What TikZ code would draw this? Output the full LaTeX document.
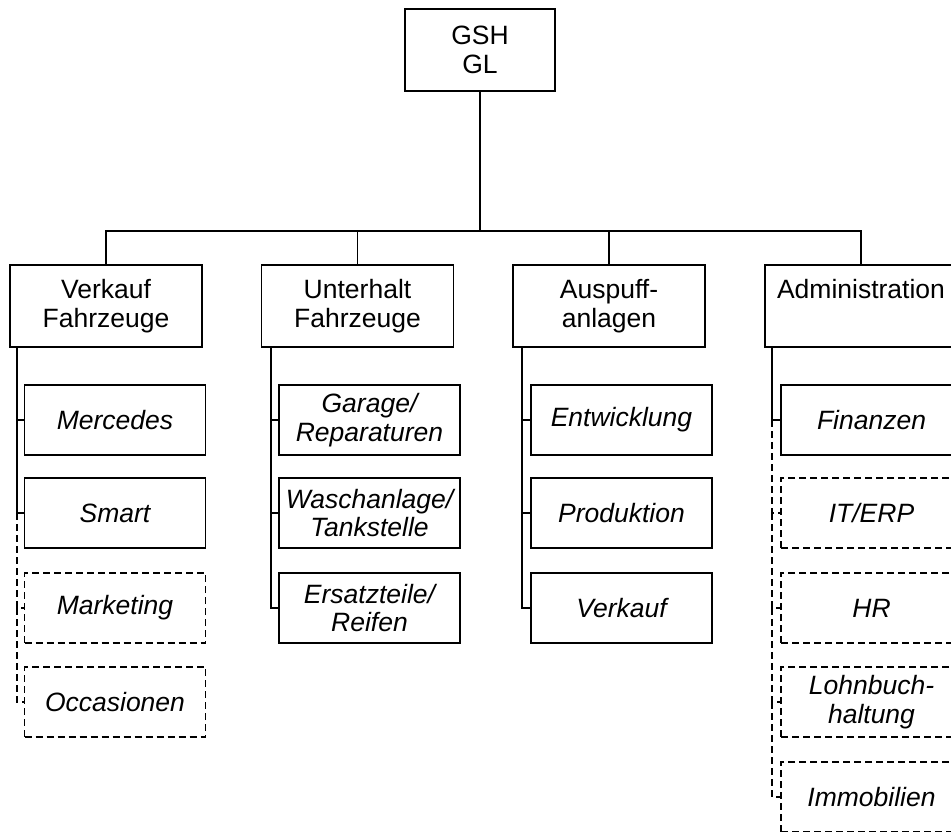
\documentclass[tikz,border=0pt]{standalone}
\usepackage{fontspec}
\setmainfont{Liberation Sans}

\newcommand{\orgfont}{\fontsize{26.5}{28.5}\selectfont}

\tikzset{
	unit/.style={draw, line width=1.9pt, minimum width=192pt, minimum height=82pt, align=center, inner sep=0pt, font=\orgfont},
	sub/.style={draw, line width=1.9pt, minimum width=181pt, minimum height=70pt, align=center, inner sep=0pt, font=\orgfont\itshape},
	subopt/.style={sub, dash pattern=on 7pt off 4pt},
	link/.style={line width=1.9pt},
	linkopt/.style={line width=1.9pt, dash pattern=on 7pt off 4pt}
}

\begin{document}
\begin{tikzpicture}[x=1pt,y=-1pt]
	\useasboundingbox (0,0) rectangle (951,831);
	% Geschaeftsleitung
	\node[unit, minimum width=150pt] (gl) at (480,50) {GSH\\GL};
	\coordinate (bus) at (480,231);

	% Bereiche
	\node[unit] (vf) at (106,306) {Verkauf\\Fahrzeuge};
	\node[unit] (uf) at (357.5,306) {Unterhalt\\Fahrzeuge};
	\node[unit] (ap) at (609,306) {Auspuff-\\anlagen};
	\node[unit] (adm) at (861,306) {Administration\\\vphantom{Fg}};

	\draw[link] (gl.south) -- (bus);
	\draw[link] (vf.north) |- (bus) -| (adm.north);
	\draw[link] (uf.north) -- (uf.north |- bus);
	\draw[link] (ap.north) -- (ap.north |- bus);

	% Verkauf Fahrzeuge
	\node[sub] (vf1) at (115,420) {Mercedes};
	\node[sub] (vf2) at (115,513) {Smart};
	\node[subopt] (vf3) at (115,608) {Marketing};
	\node[subopt] (vf4) at (115,702) {Occasionen};
	\coordinate (vfs) at (17,347);
	\draw[link] (vfs) |- (vf1.west);
	\draw[link] (vfs) |- (vf2.west);
	\draw[linkopt] (vfs |- vf2.west) |- (vf3.west);
	\draw[linkopt] (vfs |- vf3.west) |- (vf4.west);

	% Unterhalt Fahrzeuge
	\node[sub] (uf1) at (369.5,420) {Garage/\\Reparaturen};
	\node[sub] (uf2) at (369.5,513) {Waschanlage/\\Tankstelle};
	\node[sub] (uf3) at (369.5,608) {Ersatzteile/\\Reifen};
	\coordinate (ufs) at (271,347);
	\draw[link] (ufs) |- (uf1.west);
	\draw[link] (ufs) |- (uf2.west);
	\draw[link] (ufs) |- (uf3.west);

	% Auspuffanlagen
	\node[sub] (ap1) at (621.5,420) {Entwicklung};
	\node[sub] (ap2) at (621.5,513) {Produktion};
	\node[sub] (ap3) at (621.5,608) {Verkauf};
	\coordinate (aps) at (522,347);
	\draw[link] (aps) |- (ap1.west);
	\draw[link] (aps) |- (ap2.west);
	\draw[link] (aps) |- (ap3.west);

	% Administration
	\node[sub] (adm1) at (871.5,420) {Finanzen};
	\node[subopt] (adm2) at (871.5,513) {IT/ERP};
	\node[subopt] (adm3) at (871.5,608) {HR};
	\node[subopt] (adm4) at (871.5,702) {Lohnbuch-\\haltung};
	\node[subopt] (adm5) at (871.5,797) {Immobilien};
	\coordinate (adms) at (772,347);
	\draw[link] (adms) |- (adm1.west);
	\draw[linkopt] (adms |- adm1.west) |- (adm2.west);
	\draw[linkopt] (adms |- adm2.west) |- (adm3.west);
	\draw[linkopt] (adms |- adm3.west) |- (adm4.west);
	\draw[linkopt] (adms |- adm4.west) |- (adm5.west);
\end{tikzpicture}
\end{document}
